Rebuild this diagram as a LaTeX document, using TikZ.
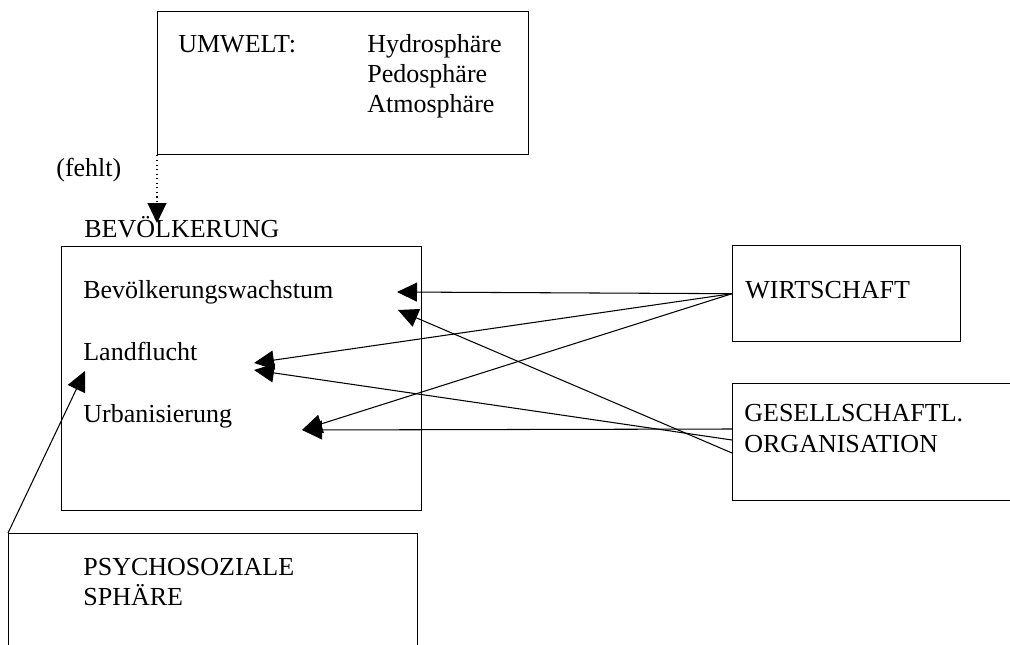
\documentclass[tikz,border=0pt]{standalone}
\usepackage{fontspec}
\setmainfont{Liberation Serif}
\usetikzlibrary{arrows.meta}
\tikzset{
  box/.style={draw, line width=0.8pt, inner sep=0pt, anchor=north west},
  txt/.style={inner sep=0pt, anchor=base west, font=\fontsize{14.8}{17}\selectfont},
  pfeil/.style={line width=0.6pt, -{Triangle[length=0.4cm,width=0.38cm]}}
}
\begin{document}
\begin{tikzpicture}[x=0.02cm,y=-0.02cm]
\useasboundingbox (0,0) rectangle (1010,645);
% Umwelt
\node[box, minimum width=7.42cm, minimum height=2.86cm] (umwelt) at (157,11) {};
\node[txt] (umw) at (178,53) {UMWELT:};
\node[txt] (hydro) at (367,53) {Hydrosphäre};
\node[txt] (pedo) at (367,83) {Pedosphäre};
\node[txt] (atmo) at (367,113) {Atmosphäre};
\node[txt] (fehlt) at (56,177) {(fehlt)};
% Bevoelkerung
\node[txt] (bevtitel) at (84,237) {BEVÖLKERUNG};
\node[box, minimum width=7.2cm, minimum height=5.28cm] (bev) at (61,246) {};
\node[txt] (wachstum) at (83,298) {Bevölkerungswachstum};
\node[txt] (landflucht) at (83,360) {Landflucht};
\node[txt] (urban) at (83,422) {Urbanisierung};
% Wirtschaft
\node[box, minimum width=4.56cm, minimum height=1.92cm] (wirt) at (732,245) {};
\node[txt] (wirttxt) at (745,298) {WIRTSCHAFT};
% Gesellschaft
\node[box, minimum width=6cm, minimum height=2.34cm] (ges) at (732,383) {};
\node[txt] (gestxt) at (744,421) {GESELLSCHAFTL.};
\node[txt] (orgtxt) at (744,452) {ORGANISATION};
% Psychosoziale Sphaere
\node[box, minimum width=8.18cm, minimum height=3cm] (psy) at (8,533) {};
\node[txt] (psytxt) at (83,575) {PSYCHOSOZIALE};
\node[txt] (sphtxt) at (83,605) {SPHÄRE};
% Pfeilenden
\coordinate (zB) at (157,223);
\coordinate (zWa) at (397,292); \coordinate (zWb) at (398,310);
\coordinate (zLa) at (254,363); \coordinate (zLb) at (254,370);
\coordinate (zU) at (302,430);  \coordinate (zP) at (85,371);
\coordinate (gA) at (732,429); \coordinate (gB) at (732,440); \coordinate (gC) at (732,453);
% Pfeile
\draw[pfeil, dotted] (umwelt.south west) -- (zB);
\draw[pfeil] (wirt.west) -- (zWa);
\draw[pfeil] (wirt.west) -- (zLa);
\draw[pfeil] (wirt.west) -- (zU);
\draw[pfeil] (gA) -- (zU);
\draw[pfeil] (gB) -- (zLb);
\draw[pfeil] (gC) -- (zWb);
\draw[pfeil] (psy.north west) -- (zP);
\end{tikzpicture}
\end{document}
